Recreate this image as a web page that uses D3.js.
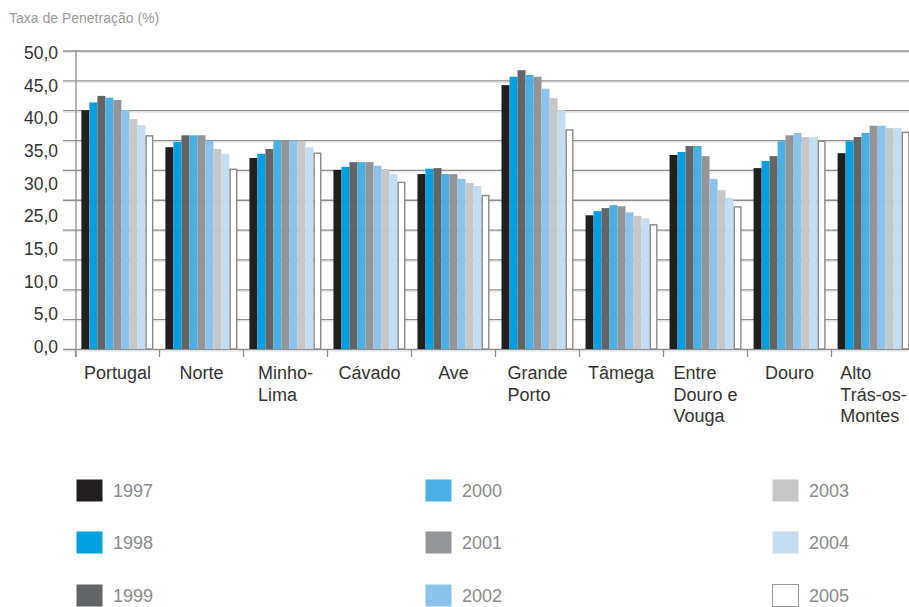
<html>
<head>
<meta charset="utf-8">
<title>Taxa de Penetração</title>
<script src="https://d3js.org/d3.v7.min.js"></script>
<style>
body { margin: 0; background: #fff; }
svg { display: block; font-family: "Liberation Sans", Arial, sans-serif; }
.grid line { stroke: #8e8e8e; stroke-width: 1.3; }
.grid .domain { display: none; }
.ylab .domain, .ylab line { display: none; }
.ylab text { fill: #333; font-size: 17.5px; }
</style>
</head>
<body>
<script>
// regioes e anos
var regions = [["Portugal"], ["Norte"], ["Minho-", "Lima"], ["Cávado"], ["Ave"],
  ["Grande", "Porto"], ["Tâmega"], ["Entre", "Douro e", "Vouga"], ["Douro"],
  ["Alto", "Trás-os-", "Montes"]];
var years = ["1997", "1998", "1999", "2000", "2001", "2002", "2003", "2004", "2005"];
var colors = ["#231f20", "#009fdf", "#636466", "#4aafe3", "#939598",
  "#8cc3ea", "#c6c7c9", "#c3def3", "#ffffff"];

// valores por regiao (1997..2005)
var vPortugal = [40.0, 41.3, 42.4, 42.1, 41.7, 40.0, 38.5, 37.5, 35.7];
var vNorte    = [33.8, 34.7, 35.8, 35.8, 35.8, 34.9, 33.5, 32.7, 30.1];
var vMinho    = [32.0, 32.7, 33.5, 34.9, 34.9, 34.9, 34.9, 33.8, 32.8];
var vCavado   = [30.0, 30.5, 31.3, 31.3, 31.3, 30.7, 30.1, 29.3, 27.9];
var vAve      = [29.3, 30.2, 30.3, 29.3, 29.3, 28.5, 27.8, 27.3, 25.7];
var vPorto    = [44.2, 45.6, 46.7, 45.9, 45.6, 43.6, 42.0, 40.0, 36.7];
var vTamega   = [22.4, 23.1, 23.6, 24.1, 23.9, 22.9, 22.3, 21.9, 20.8];
var vEntre    = [32.5, 33.0, 34.0, 34.0, 32.3, 28.5, 26.6, 25.3, 23.8];
var vDouro    = [30.3, 31.5, 32.3, 34.8, 35.8, 36.2, 35.5, 35.5, 34.8];
var vAlto     = [32.8, 34.8, 35.5, 36.2, 37.4, 37.4, 37.0, 37.0, 36.3];
var values = [vPortugal, vNorte, vMinho, vCavado, vAve, vPorto, vTamega, vEntre, vDouro, vAlto];

// rotulos do eixo, tal como aparecem no original
var tickLabels = ["50,0", "45,0", "40,0", "35,0", "30,0", "25,0", "15,0", "10,0", "5,0", "0,0"];

var width = 909, height = 607;
var svg = d3.select("body").append("svg")
  .attr("width", width).attr("height", height);

var names = regions.map(function(r) { return r.join(" "); });

var y = d3.scaleLinear().domain([0, 50]).range([349, 50.5]);
var x0 = d3.scaleBand().domain(names).range([75.5, 915.5])
  .paddingInner(0.143).paddingOuter(0.07);
var x1 = d3.scaleBand().domain(years).range([0, x0.bandwidth()]);
var bands = d3.scaleBand().domain(names).range([75.5, 915.5]);

svg.append("text")
  .attr("x", 9).attr("y", 23)
  .attr("fill", "#9a9a9a").attr("font-size", "14px")
  .text("Taxa de Penetração (%)");

// grelha
svg.append("g").attr("class", "grid")
  .attr("transform", "translate(63,0)")
  .call(d3.axisLeft(y).tickValues(d3.range(0, 51, 5)).tickSize(-(width - 63)).tickFormat(""))
  .selectAll(".tick").append("line")
  .attr("x2", width - 63).attr("y1", 1.5).attr("y2", 1.5)
  .style("stroke", "#e2e2e2").style("stroke-width", 1);

// eixo y
svg.append("line").attr("x1", 76).attr("x2", 76).attr("y1", 50).attr("y2", 357)
  .attr("stroke", "#8e8e8e").attr("stroke-width", 1.3);

svg.append("g").attr("class", "ylab")
  .attr("transform", "translate(58,0)")
  .call(d3.axisLeft(d3.scalePoint().domain(tickLabels).range([53, 347])).tickSize(0).tickPadding(0));

// marcas das categorias
svg.append("g").selectAll("line")
  .data(names.concat(["_end"]))
  .enter().append("line")
  .attr("x1", function(d, i) { return bands.range()[0] + i * bands.step(); })
  .attr("x2", function(d, i) { return bands.range()[0] + i * bands.step(); })
  .attr("y1", 349).attr("y2", 357)
  .attr("stroke", "#8e8e8e").attr("stroke-width", 1.3);

// barras
var groups = svg.append("g").selectAll("g")
  .data(values)
  .enter().append("g")
  .attr("transform", function(d, i) { return "translate(" + x0(names[i]) + ",0)"; });

groups.selectAll("rect")
  .data(function(d) { return d.map(function(v, j) { return { year: years[j], v: v, j: j }; }); })
  .enter().append("rect")
  .attr("x", function(d) { return x1(d.year) + (d.j == 8 ? 0.7 : 0); })
  .attr("width", function(d) { return x1.bandwidth() - (d.j == 8 ? 1.4 : 0); })
  .attr("y", function(d) { return y(d.v); })
  .attr("height", function(d) { return y(0) - y(d.v); })
  .attr("fill", function(d) { return colors[d.j]; })
  .attr("stroke", function(d) { return d.j == 8 ? "#8a8a8a" : "none"; })
  .attr("stroke-width", 1.4);

// rotulos das categorias
var labs = svg.append("g").selectAll("text")
  .data(regions)
  .enter().append("text")
  .attr("font-size", "18px").attr("fill", "#333");
labs.each(function(r, i) {
  var t = d3.select(this);
  r.forEach(function(line, k) {
    t.append("tspan").attr("dy", k == 0 ? 0 : 21.5).attr("x", 0).text(line);
  });
  var w = this.getBBox().width;
  var left = bands(names[i]) + bands.bandwidth() / 2 - w / 2;
  t.attr("transform", "translate(" + left + ",379)");
});

// legenda
var legX = [76, 425, 772], legY = [479, 531, 584];
var leg = svg.append("g").selectAll("g")
  .data(years)
  .enter().append("g")
  .attr("transform", function(d, i) {
    return "translate(" + legX[Math.floor(i / 3)] + "," + legY[i % 3] + ")";
  });
leg.append("rect")
  .attr("x", 0.5).attr("y", 0.5).attr("width", 26).attr("height", 22)
  .attr("fill", function(d, i) { return colors[i]; })
  .attr("stroke", function(d, i) { return i == 8 ? "#9a9a9a" : "none"; });
leg.append("text")
  .attr("x", 37).attr("y", 18)
  .attr("font-size", "18px").attr("fill", "#8a8a8a")
  .text(function(d) { return d; });
</script>
</body>
</html>
